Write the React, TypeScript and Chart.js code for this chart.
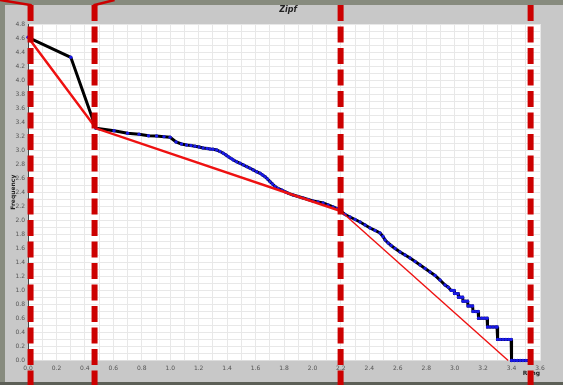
import React, { useEffect, useRef } from 'react';
import { Chart, registerables } from 'chart.js';

Chart.register(...registerables);

// log10(rank) of each plotted word
const logRank = [
  0, 0.301, 0.478, 0.605, 0.7, 0.781, 0.847, 0.904, 0.956, 0.999,
  1.041, 1.079, 1.115, 1.146, 1.174, 1.203, 1.231, 1.259, 1.28, 1.301,
  1.327, 1.35, 1.373, 1.392, 1.409, 1.428, 1.444, 1.466, 1.491, 1.515,
  1.538, 1.561, 1.584, 1.607, 1.632, 1.649, 1.667, 1.684, 1.702, 1.719,
  1.737, 1.758, 1.784, 1.807, 1.831, 1.864, 1.899, 1.934, 1.969, 2.004,
  2.039, 2.075, 2.11, 2.145, 2.173, 2.198, 2.229, 2.264, 2.3, 2.335,
  2.37, 2.405, 2.44, 2.475, 2.496, 2.511, 2.532, 2.553, 2.581, 2.616,
  2.651, 2.686, 2.722, 2.757, 2.792, 2.827, 2.862, 2.897, 2.932, 2.955,
  2.975, 2.985, 2.996,
  2.999, 3.012, 3.024,
  3.027, 3.042, 3.056,
  3.059, 3.075, 3.091,
  3.094, 3.11, 3.126,
  3.129, 3.147, 3.165,
  3.168, 3.19, 3.21, 3.228,
  3.231, 3.25, 3.27, 3.29, 3.298,
  3.302, 3.32, 3.34, 3.36, 3.38, 3.397,
  3.4, 3.42, 3.44, 3.46, 3.48, 3.5, 3.52, 3.537,
];

// log10(frequency) of each plotted word
const logFreq = [
  4.61, 4.325, 3.312, 3.278, 3.241, 3.227, 3.207, 3.203, 3.193, 3.184,
  3.117, 3.088, 3.074, 3.067, 3.057, 3.046, 3.031, 3.024, 3.017, 3.013,
  3.003, 2.981, 2.956, 2.932, 2.907, 2.882, 2.86, 2.836, 2.813, 2.789,
  2.765, 2.742, 2.718, 2.693, 2.67, 2.646, 2.622, 2.589, 2.551, 2.518,
  2.482, 2.454, 2.432, 2.408, 2.385, 2.361, 2.34, 2.318, 2.297, 2.275,
  2.261, 2.247, 2.218, 2.19, 2.168, 2.133, 2.083, 2.047, 2.011, 1.976,
  1.933, 1.89, 1.855, 1.819, 1.769, 1.719, 1.676, 1.641, 1.598, 1.548,
  1.505, 1.462, 1.412, 1.362, 1.312, 1.262, 1.213, 1.148, 1.077, 1.045,
  1.0, 1.0, 1.0,
  0.954, 0.954, 0.954,
  0.903, 0.903, 0.903,
  0.845, 0.845, 0.845,
  0.778, 0.778, 0.778,
  0.699, 0.699, 0.699,
  0.602, 0.602, 0.602, 0.602,
  0.477, 0.477, 0.477, 0.477, 0.477,
  0.301, 0.301, 0.301, 0.301, 0.301, 0.301,
  0, 0, 0, 0, 0, 0, 0, 0,
];

// piecewise fitted Zipf line
const fitLogRank = [0, 0.478, 2.198, 3.376];
const fitLogFreq = [4.61, 3.312, 2.133, 0];

// segment boundaries (dashed red markers)
const cutLogRank = [0.018, 0.468, 2.198, 3.534];

const chartTitle = 'Zipf';
const yTitle = 'Frequency';
const xTitle = 'Rang';
const xMax = 3.6;
const yMax = 4.8;
const tickStep = 0.1;

const FONT = '"DejaVu Sans", sans-serif';

const framePlugin = {
  id: 'frame',
  beforeDraw(chart: any) {
    const { ctx, width, height, chartArea: a } = chart;
    ctx.save();
    ctx.fillStyle = '#c8c8c8';
    ctx.fillRect(0, 0, width, height);
    ctx.fillStyle = '#878b7e';
    ctx.fillRect(0, 0, width, 5);
    ctx.fillRect(0, 0, 5, height);
    ctx.fillStyle = '#5c5f56';
    ctx.fillRect(0, height - 3, width, 3);
    ctx.fillStyle = '#ffffff';
    ctx.fillRect(a.left, a.top, a.right - a.left, a.bottom - a.top);
    ctx.fillStyle = '#222';
    ctx.font = 'italic bold 8px ' + FONT;
    ctx.textAlign = 'center';
    ctx.textBaseline = 'middle';
    ctx.fillText(chartTitle, (a.left + a.right) / 2 + 4, 10);
    ctx.restore();
  },
  afterDraw(chart: any) {
    const { ctx, height } = chart;
    const xs = chart.scales.x;
    ctx.save();
    ctx.strokeStyle = '#cc0000';
    ctx.lineWidth = 6;
    ctx.setLineDash([16, 5.5]);
    const pxs = cutLogRank.map((v) => xs.getPixelForValue(v));
    pxs.forEach((px) => {
      ctx.beginPath();
      ctx.moveTo(px, 5);
      ctx.lineTo(px, height);
      ctx.stroke();
    });
    ctx.setLineDash([]);
    ctx.lineWidth = 2.5;
    ctx.beginPath();
    ctx.moveTo(0, 0);
    ctx.lineTo(pxs[0], 5);
    ctx.lineTo(pxs[0], 8);
    ctx.stroke();
    ctx.beginPath();
    ctx.moveTo(pxs[1], 8);
    ctx.lineTo(pxs[1], 5);
    ctx.lineTo(pxs[1] + 20, 0);
    ctx.stroke();
    ctx.restore();
  },
};

const labelEveryOther = (v: number) => {
  const k = Math.round(v / tickStep);
  return k % 2 === 0 ? (k * tickStep).toFixed(1) : '';
};

export default function App() {
  const ref = useRef<HTMLCanvasElement | null>(null);

  useEffect(() => {
    document.body.style.margin = '0';
    const canvas = ref.current;
    if (!canvas) return;
    const points = logRank.map((x, i) => ({ x, y: logFreq[i] }));
    const fit = fitLogRank.map((x, i) => ({ x, y: fitLogFreq[i] }));

    const chart = new Chart(canvas, {
      type: 'line',
      data: {
        datasets: [
          {
            label: 'fit',
            data: fit,
            borderColor: '#ee1111',
            borderWidth: 2.5,
            pointRadius: 0,
            tension: 0,
            clip: 8,
            segment: {
              borderWidth: (c: any) => (c.p0DataIndex === 2 ? 1.4 : 2.5),
            },
          } as any,
          {
            label: 'words',
            data: points,
            borderColor: '#000000',
            borderWidth: 3,
            pointRadius: 1.7,
            pointBackgroundColor: '#1a1ae6',
            pointBorderColor: '#1a1ae6',
            pointBorderWidth: 0,
            tension: 0,
            clip: 8,
          } as any,
        ],
      },
      options: {
        animation: false,
        responsive: false,
        devicePixelRatio: 1,
        layout: { padding: { top: 24, left: 0, right: 23, bottom: 0 } },
        plugins: {
          legend: { display: false },
          tooltip: { enabled: false },
          title: { display: false },
        },
        scales: {
          x: {
            type: 'linear',
            min: 0,
            max: xMax,
            ticks: {
              stepSize: tickStep,
              autoSkip: false,
              maxRotation: 0,
              padding: 4,
              color: '#555',
              font: { family: FONT, size: 6 },
              callback: (v: any) => labelEveryOther(Number(v)),
            },
            grid: { color: '#e8e8e8', lineWidth: 1, drawTicks: false },
            border: { color: '#dddddd', width: 1 },
            title: {
              display: true,
              text: xTitle,
              align: 'end',
              color: '#222',
              font: { family: FONT, size: 6, weight: 'bold' },
              padding: { top: 0, bottom: 8 },
            },
            afterFit: (s: any) => {
              s.height = 24.5;
            },
          },
          y: {
            type: 'linear',
            min: 0,
            max: yMax,
            ticks: {
              stepSize: tickStep,
              autoSkip: false,
              padding: 3,
              color: '#555',
              font: { family: FONT, size: 6 },
              callback: (v: any) => labelEveryOther(Number(v)),
            },
            grid: { color: '#e8e8e8', lineWidth: 1, drawTicks: false },
            border: { color: '#444444', width: 1 },
            title: {
              display: true,
              text: yTitle,
              color: '#222',
              font: { family: FONT, size: 6, weight: 'bold' },
              padding: { top: 10, bottom: 0 },
            },
            afterFit: (s: any) => {
              s.width = 28;
            },
          },
        },
      } as any,
      plugins: [framePlugin],
    });
    return () => chart.destroy();
  }, []);

  return (
    <div style={{ width: 563, height: 385 }}>
      <canvas ref={ref} width={563} height={385} style={{ display: 'block' }} />
    </div>
  );
}
